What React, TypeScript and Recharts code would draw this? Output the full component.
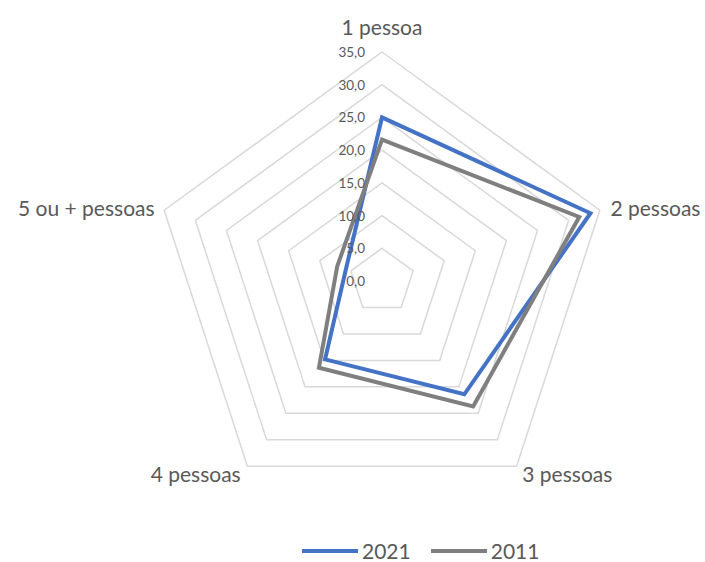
import { RadarChart, Radar, PolarGrid, PolarAngleAxis, PolarRadiusAxis, Legend } from 'recharts';

const categories = ['1 pessoa', '2 pessoas', '3 pessoas', '4 pessoas', '5 ou + pessoas'];
const values2021 = [25.0, 33.5, 21.4, 14.8, 5.8];
const values2011 = [21.6, 31.7, 23.7, 16.4, 7.2];
const radiusTicks = [0, 5, 10, 15, 20, 25, 30, 35];

const data = categories.map((category, i) => ({
  category,
  y2021: values2021[i],
  y2011: values2011[i],
}));

const FONT = 'Lato, "Open Sans", sans-serif';

// small nudges so the category labels sit where Excel puts them
const labelShift = [
  { dx: 0, dy: -18 },
  { dx: 3, dy: 0 },
  { dx: 1, dy: 1 },
  { dx: -2, dy: 1 },
  { dx: -2, dy: 0 },
];

const AngleTick = (props: any) => {
  const { x, y, payload, textAnchor, index } = props;
  const s = labelShift[index] || { dx: 0, dy: 0 };
  return (
    <text
      x={x + s.dx}
      y={y + s.dy}
      textAnchor={textAnchor}
      dominantBaseline="central"
      fontSize={21}
      fontFamily={FONT}
      fill="#595959"
    >
      {payload.value}
    </text>
  );
};

const RadiusTick = (props: any) => {
  const { x, y, payload } = props;
  return (
    <text
      x={x - 17}
      y={y}
      textAnchor="end"
      dominantBaseline="central"
      fontSize={13.5}
      fontFamily={FONT}
      fill="#595959"
    >
      {Number(payload.value).toFixed(1).replace('.', ',')}
    </text>
  );
};

const legendItems = [
  { label: '2021', color: '#4472c4' },
  { label: '2011', color: '#7f7f7f' },
];

const renderLegend = () => (
  <div
    style={{
      display: 'flex',
      alignItems: 'center',
      height: 20,
      paddingLeft: 302,
      fontFamily: FONT,
      fontSize: 21,
      lineHeight: '20px',
      color: '#595959',
    }}
  >
    {legendItems.map((item, i) => (
      <div key={item.label} style={{ display: 'flex', alignItems: 'center', marginLeft: i ? 20 : 0 }}>
        <svg width={56} height={6} style={{ marginRight: 4 }}>
          <line x1={0} y1={3} x2={56} y2={3} stroke={item.color} strokeWidth={4} />
        </svg>
        <span>{item.label}</span>
      </div>
    ))}
  </div>
);

export default function App() {
  return (
    <div style={{ position: 'absolute', left: 0, top: 0, background: '#fff' }}>
      <RadarChart width={705} height={562} data={data} cx={382} cy={281} outerRadius={229}>
        <PolarGrid gridType="polygon" radialLines={false} stroke="#d9d9d9" strokeWidth={1.5} />
        <PolarAngleAxis dataKey="category" tick={<AngleTick />} tickLine={false} axisLine={false} />
        <PolarRadiusAxis
          angle={90}
          type="number"
          domain={[0, 35]}
          ticks={radiusTicks as any}
          tickCount={8}
          tick={<RadiusTick />}
          axisLine={false}
          tickLine={false}
        />
        <Radar name="2021" dataKey="y2021" stroke="#4472c4" strokeWidth={4} fill="none" fillOpacity={0} dot={false} isAnimationActive={false} />
        <Radar name="2011" dataKey="y2011" stroke="#7f7f7f" strokeWidth={4} fill="none" fillOpacity={0} dot={false} isAnimationActive={false} />
        <Legend content={renderLegend} wrapperStyle={{ top: 541, left: 0, width: 705, bottom: 'auto' }} />
      </RadarChart>
    </div>
  );
}
